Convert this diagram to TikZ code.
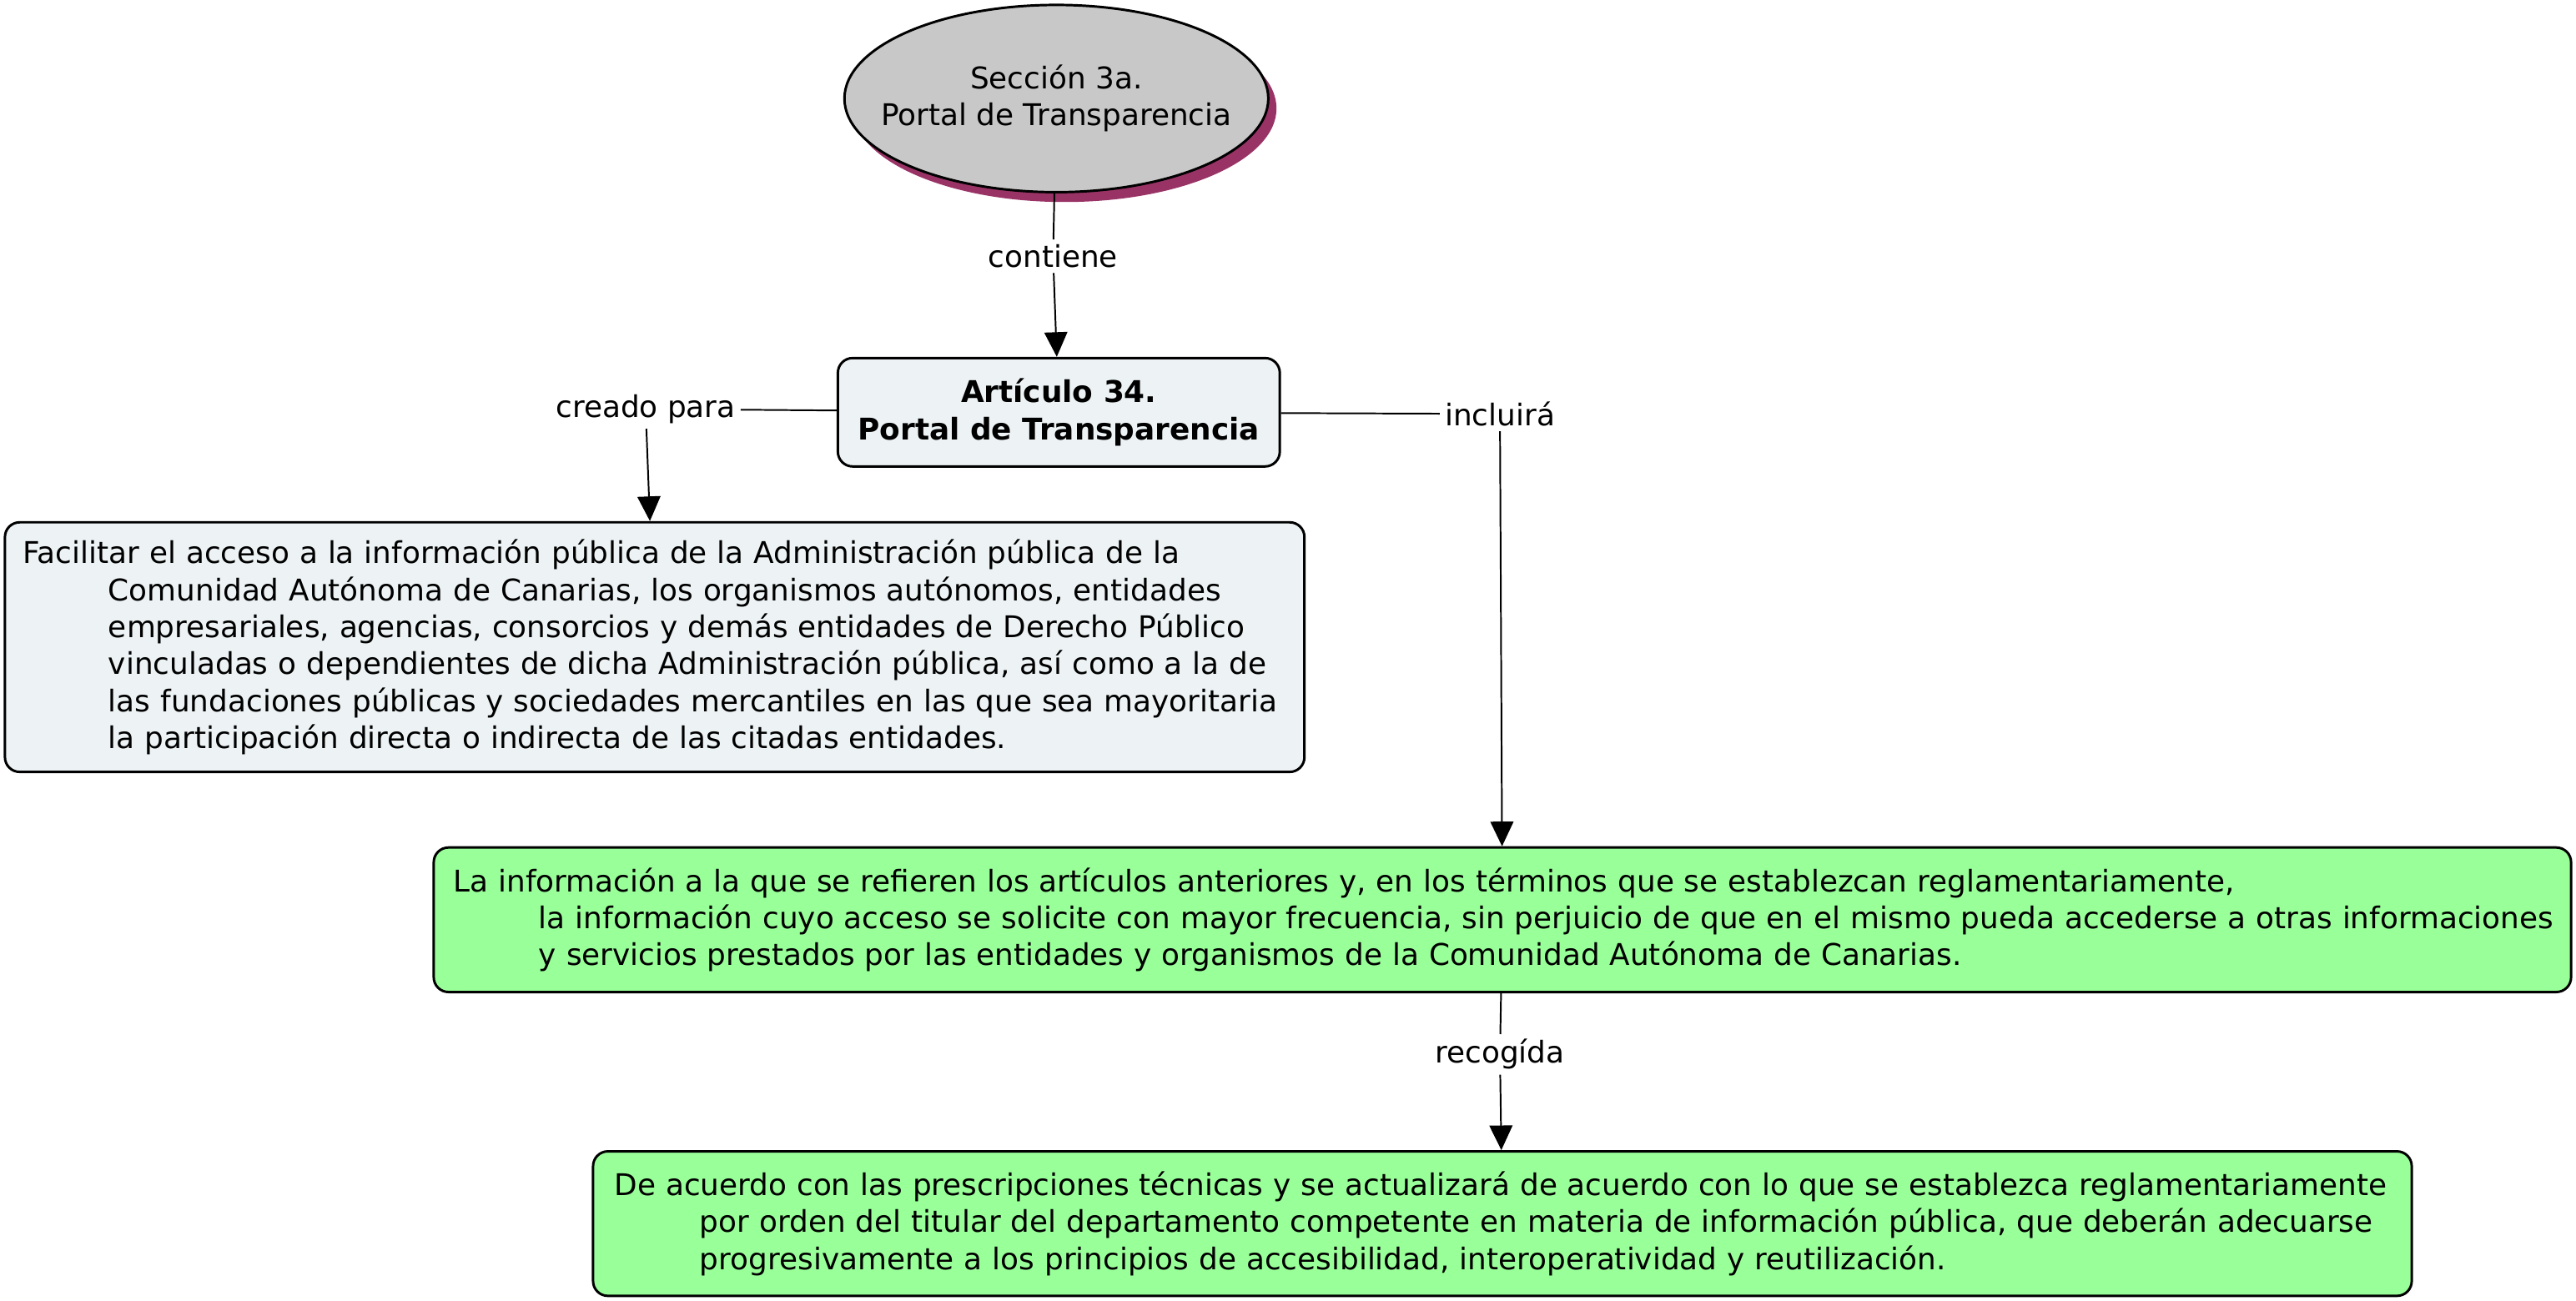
\documentclass[tikz,border=0pt]{standalone}
\usepackage{fontspec}
\setmainfont{DejaVu Sans}
\usetikzlibrary{arrows.meta,shapes.geometric,shadows}

\definecolor{grisnodo}{RGB}{200,200,200}
\definecolor{azulclaro}{RGB}{237,243,245}
\definecolor{verdeclaro}{RGB}{153,255,153}
\definecolor{sombra}{RGB}{153,51,102}

\newcommand{\sangria}{\hspace*{52pt}}

\tikzset{
  caja/.style={draw,line width=1.5pt,rounded corners=9pt,inner ysep=0pt},
  textolargo/.style={inner xsep=#1,execute at begin node={\rightskip=-40pt plus 1fil}},
  enlace/.style={inner sep=3pt},
  linea/.style={line width=1pt},
  flecha/.style={line width=1pt,-{Triangle[length=15pt,width=14pt]}}
}

\begin{document}
\begin{tikzpicture}[x=1pt,y=-1pt,font=\fontsize{18.2}{22.5}\selectfont]
    \useasboundingbox (0,0) rectangle (1568,792);

    % conceptos
    \node[ellipse,draw,line width=1.5pt,fill=grisnodo,minimum width=258pt,minimum height=114pt,
      inner xsep=-30pt,inner ysep=0pt,align=center,general shadow={fill=sombra,shadow xshift=5pt,shadow yshift=-6pt}]
      (seccion) at (643,60) {Sección 3a.\\Portal de Transparencia};
    \node[caja,fill=azulclaro,minimum width=269pt,minimum height=66pt,align=center,
      font=\fontsize{18.2}{22.5}\selectfont\bfseries] (articulo) at (644.5,251) {Artículo 34.\\Portal de Transparencia};

    \node[caja,textolargo=11pt,fill=azulclaro,text width=769pt,minimum height=152pt] (facilitar) at (398.5,394)
      {Facilitar el acceso a la información pública de la Administración pública de la\\
      \sangria Comunidad Autónoma de Canarias, los organismos autónomos, entidades\\
      \sangria empresariales, agencias, consorcios y demás entidades de Derecho Público\\
      \sangria vinculadas o dependientes de dicha Administración pública, así como a la de\\
      \sangria las fundaciones públicas y sociedades mercantiles en las que sea mayoritaria\\
      \sangria la participación directa o indirecta de las citadas entidades.};
    \node[caja,textolargo=12pt,fill=verdeclaro,text width=1277pt,minimum height=88pt] (informacion) at (914.5,560)
      {La información a la que se refieren los artículos anteriores y, en los términos que se establezcan reglamentariamente,\\
      \sangria la información cuyo acceso se solicite con mayor frecuencia, sin perjuicio de que en el mismo pueda accederse a otras informaciones\\
      \sangria y servicios prestados por las entidades y organismos de la Comunidad Autónoma de Canarias.};
    \node[caja,textolargo=13pt,fill=verdeclaro,text width=1081pt,minimum height=88pt] (acuerdo) at (914.5,745)
      {De acuerdo con las prescripciones técnicas y se actualizará de acuerdo con lo que se establezca reglamentariamente\\
      \sangria por orden del titular del departamento competente en materia de información pública, que deberán adecuarse\\
      \sangria progresivamente a los principios de accesibilidad, interoperatividad y reutilización.};

    % frases de enlace
    \node[enlace] (contiene) at (641,156) {contiene};
    \node[enlace] (creado) at (393,249) {creado para};
    \node[enlace] (incluira) at (913,252) {incluirá};
    \node[enlace] (recogida) at (913,642) {recogída};

    \draw[linea] (seccion) -- (contiene);
    \draw[flecha] (contiene) -- (articulo);
    \draw[linea] (articulo) -- (creado);
    \draw[flecha] (creado) -- (facilitar);
    \draw[linea] (articulo) -- (incluira);
    \draw[flecha] (incluira) -- (informacion);
    \draw[linea] (informacion) -- (recogida);
    \draw[flecha] (recogida) -- (acuerdo);

\end{tikzpicture}
\end{document}
